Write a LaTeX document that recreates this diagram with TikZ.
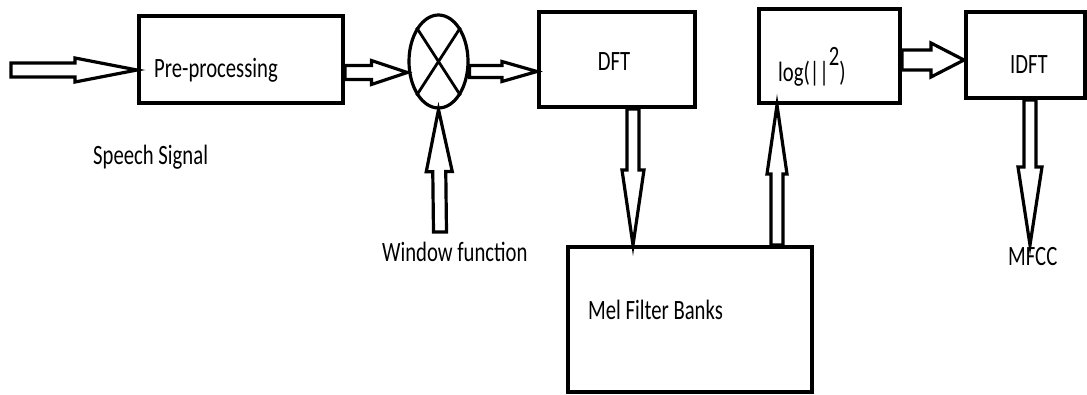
\documentclass[tikz,border=0pt]{standalone}
\usepackage{fontspec}
\setmainfont{Carlito}
\usetikzlibrary{shapes.geometric,calc}
\tikzset{
  box/.style={draw, line width=4pt, rectangle, inner sep=0pt},
  lbl/.style={anchor=west, inner sep=0pt, font=\fontsize{20.7}{24}\selectfont},
  barrowstyle/.style={draw, line width=3.2pt, fill=white, line join=miter},
}
\newcommand\Tx[1]{\scalebox{1}[1.35]{#1}}
% start, end, shaft half width, head half width, head length
\newcommand\barrow[5]{%
  \path[barrowstyle] let \p1=(#1), \p2=(#2),
     \n1={atan2(\y2-\y1,\x2-\x1)}, \n2={veclen(\x2-\x1,\y2-\y1)} in
     [shift={(\p1)}, rotate=\n1]
     (0,-#3) -- ({\n2-#5},-#3) -- ({\n2-#5},-#4) -- (\n2,0)
     -- ({\n2-#5},#4) -- ({\n2-#5},#3) -- (0,#3) -- cycle;}
\begin{document}
\begin{tikzpicture}[x=1pt,y=-1pt]
\useasboundingbox (0,0) rectangle (1087,394);
% boxes
\node[box, minimum width=204pt, minimum height=87pt] (pre) at (241,59.5) {};
\node[draw, ellipse, line width=3.2pt, minimum width=59pt, minimum height=93pt, inner sep=0pt] (circ) at (438.5,61.5) {};
\draw[line width=2.8pt] (circ.north west) -- (circ.south east) (circ.north east) -- (circ.south west);
\node[box, minimum width=156pt, minimum height=95pt] (dft) at (617,59.5) {};
\node[box, minimum width=141pt, minimum height=94pt] (log) at (829.5,56) {};
\node[box, minimum width=119pt, minimum height=86pt] (idft) at (1025.5,55) {};
\node[box, minimum width=244pt, minimum height=145pt] (mel) at (690,319.5) {};
% texts
\node[lbl] (tpre) at (154,70) {\Tx{Pre-processing}};
\node[lbl] (tsp) at (93,157) {\Tx{Speech Signal}};
\node[lbl] (twin) at (382,252) {\Tx{Window function}};
\node[lbl, anchor=center] (tdft) at (614,62) {\Tx{DFT}};
\node[lbl] (tlog) at (778,67) {\Tx{log(||\raisebox{0.55em}{2})}};
\node[lbl] (tidft) at (1010,65) {\Tx{IDFT}};
\node[lbl] (tmel) at (588,310) {\Tx{Mel Filter Banks}};
\node[lbl] (tmfcc) at (1008,257) {\Tx{MFCC}};
% coordinates
\coordinate (in) at (11,70);
\coordinate (a1) at ([yshift=-13pt]pre.east);
\coordinate (a2) at ([yshift=-10pt]circ.east);
\coordinate (win) at (440,232);
\coordinate (a3) at ([xshift=16pt]dft.south);
\coordinate (a4) at (777,0 |- mel.north);
\coordinate (a5) at ([yshift=-4pt]log.east);
\coordinate (a6) at ([xshift=4.5pt]idft.south);
\coordinate (mfcctip) at (a6 |- 0,245);
% arrows
\barrow{in}{in -| pre.west}{7}{12}{62}
\barrow{a1}{a1 -| circ.west}{7}{12}{36}
\barrow{a2}{a2 -| dft.west}{6}{10}{35}
\barrow{win}{circ.south}{6.5}{13}{62}
\barrow{a3}{a3 |- mel.north}{6}{11}{75}
\barrow{a4}{a4 |- log.south}{6}{10}{69}
\barrow{a5}{a5 -| idft.west}{10}{17}{33}
\barrow{a6}{mfcctip}{6}{12}{78}
\end{tikzpicture}
\end{document}
